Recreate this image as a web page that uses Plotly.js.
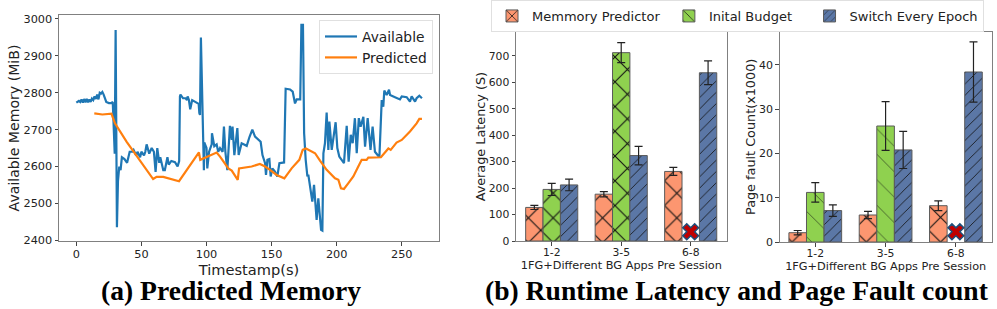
<!DOCTYPE html>
<html><head><meta charset="utf-8">
<script src="https://cdn.plot.ly/plotly-3.0.1.min.js"></script>
<style>html,body{margin:0;padding:0;background:#fff}#c{width:997px;height:309px}</style>
</head><body><div id="c"></div>
<script>
const availableT=[0,2,3,4,5,6,7,8,9,10,11,12,13,14,15,16,17,18,19,20,21,22,23,25,27,28,28.5,29,29.5,30.2,30.6,31.2,32,33,34,35,37,39,40,41,43,44,46,47,49,50,52,53,54,56,57.9,59.6,60.9,62.2,63.7,64.5,66.8,68,70,71,73,75.8,77.8,79,79.6,80,82,84,85,85.5,86.5,87.5,89,92,94,94.5,95,95.7,96.3,97,98,98.3,100,100.6,102,104,104.2,106,107.8,109,110.4,112.4,113.4,114.5,116,118,119.4,120,121.4,123.7,124.7,127,129,130.9,133,135.2,137.3,139.8,141.6,143,145,145.7,146.8,148.3,149.3,150.6,152.6,154.4,156,159.6,160.8,164.2,166.2,168,169.3,172,172.9,174.1,175,176.2,177.5,178.2,180,181.3,182.6,184.6,185.9,187,188,189,189.8,191,192.3,193.6,194.4,196.2,199.2,200.5,202,205.6,207.7,209.2,210.8,212.3,214,215.4,217,218.4,220.5,221.8,223.8,226,227.6,229.4,232.8,234.6,235.8,236.6,238.4,240.2,241,244.8,248.6,250,253.8,256.3,257.6,260.2,261.4,263.5,265.5];
const availableV=[2773,2778,2775,2782,2773,2783,2774,2783,2774,2782,2775,2784,2780,2790,2783,2795,2782,2800,2798,2802,2795,2785,2775,2772,2772,2775,2740,2700,2635,2970,2640,2435,2560,2600,2590,2625,2620,2610,2625,2640,2640,2645,2630,2640,2625,2640,2630,2640,2660,2635,2650,2640,2585,2650,2610,2625,2590,2590,2625,2605,2615,2612,2600,2615,2790,2795,2785,2785,2780,2790,2780,2755,2780,2775,2770,2745,2740,2950,2850,2700,2590,2665,2650,2595,2640,2660,2690,2655,2660,2640,2650,2640,2708,2640,2590,2710,2672,2708,2631,2704,2631,2663,2660,2656,2680,2700,2681,2672,2667,2631,2609,2577,2618,2620,2573,2595,2586,2573,2609,2611,2811,2809,2803,2771,2782,2782,2984,2984,2690,2618,2573,2578,2536,2505,2550,2455,2514,2460,2428,2426,2636,2663,2746,2645,2722,2645,2720,2650,2627,2609,2710,2613,2686,2663,2731,2636,2731,2708,2735,2654,2731,2645,2708,2640,2625,2780,2762,2806,2794,2808,2794,2788,2782,2790,2788,2776,2790,2776,2785,2792,2785];
const predictedT=[13.8,20,27,29.7,38.7,50,59,61.7,66.8,78.9,94.2,95.2,101.4,107.8,110.4,116.8,119.4,122.7,124,125,129.6,134.7,141,145,148.8,153.9,159.8,165.4,171.3,173.9,176.4,183.4,187.2,192.3,198.7,201.3,203.3,205.6,209,212.8,216.6,219.2,223,224.3,234,239.7,241.5,246,250,256.3,261.4,263.5,265.5];
const predictedV=[2744,2741,2743,2717,2667,2609,2566,2572,2572,2560,2638,2618,2627,2638,2627,2595,2589,2573,2564,2595,2598,2600,2607,2600,2591,2577,2568,2595,2618,2645,2649,2636,2616,2591,2568,2564,2541,2539,2555,2573,2600,2618,2618,2624,2625,2649,2645,2665,2672,2695,2717,2729,2729];
const categories=['1-2','3-5','6-8'];
const latencyPredictor=[127,177,263], latencyPredictorErr=[8,10,15];
const latencyBudget=[195,712,null], latencyBudgetErr=[23,38,0];
const latencySwitch=[212,323,636], latencySwitchErr=[22,35,45];
const faultPredictor=[2.1,6.1,8.2], faultPredictorErr=[0.5,0.8,1.1];
const faultBudget=[11.2,26.2,null], faultBudgetErr=[2.2,5.5,0];
const faultSwitch=[7.1,20.8,38.4], faultSwitchErr=[1.3,4.2,6.8];
const failedCategory=['6-8'], failedLatency=[35], failedFault=[2.3];

const ORANGE='#fc9670', GREEN='#8fd14f', BLUE='#5b77a6';
const W=997,H=309;
const dom=(a,b,s)=>[a/s,b/s];
const ydom=(top,bot)=>[1-bot/H,1-top/H];
const PAT={x:{size:17.5,solidity:0.12},'/':{size:8,solidity:0.1},'\\':{size:18,solidity:0.03}};
function bar(name,x,y,err,color,shape,xa,ya){
  return {type:'bar',name,x,y,xaxis:xa,yaxis:ya,showlegend:false,
    marker:{color,line:{color:'#5a5a5a',width:1},pattern:{shape,fgcolor:'#111',fgopacity:1,bgcolor:color,size:PAT[shape].size,solidity:PAT[shape].solidity,fillmode:'overlay'}},
    error_y:{type:'data',array:err,visible:true,color:'#222',thickness:1.2,width:4}};
}
function key(name,color,shape){
  return {type:'bar',name,x:[0],y:[null],xaxis:'x4',yaxis:'y4',legend:'legend2',showlegend:true,
    marker:{color,line:{color:'#5a5a5a',width:1},pattern:{shape,fgcolor:'#111',fgopacity:1,bgcolor:color,size:shape==='x'?10:(shape==='/'?6:9),solidity:shape==='x'?0.18:0.1,fillmode:'overlay'}}};
}
function failed(y,xa,ya){
  return {type:'scatter',mode:'markers',x:failedCategory,y,xaxis:xa,yaxis:ya,showlegend:false,
    marker:{symbol:'x',size:14,color:'#c00000',line:{color:'#1f4e79',width:1.5}}};
}
const traces=[
 {type:'scatter',mode:'lines',name:'Available',x:availableT,y:availableV,line:{color:'#1f77b4',width:2.2},xaxis:'x',yaxis:'y'},
 {type:'scatter',mode:'lines',name:'Predicted',x:predictedT,y:predictedV,line:{color:'#ff7f0e',width:2.2},xaxis:'x',yaxis:'y'},
 bar('Memmory Predictor',categories,latencyPredictor,latencyPredictorErr,ORANGE,'x','x2','y2'),
 bar('Inital Budget',categories,latencyBudget,latencyBudgetErr,GREEN,'x','x2','y2'),
 bar('Switch Every Epoch',categories,latencySwitch,latencySwitchErr,BLUE,'/','x2','y2'),
 failed(failedLatency,'x2','y2'),
 bar('Memmory Predictor',categories,faultPredictor,faultPredictorErr,ORANGE,'x','x3','y3'),
 bar('Inital Budget',categories,faultBudget,faultBudgetErr,GREEN,'\\','x3','y3'),
 bar('Switch Every Epoch',categories,faultSwitch,faultSwitchErr,BLUE,'/','x3','y3'),
 failed(failedFault,'x3','y3'),
 key('Memmory Predictor\u00A0',ORANGE,'x'),
 key('Inital Budget\u00A0\u00A0\u00A0',GREEN,'\\'),
 key('Switch Every Epoch',BLUE,'/')
];
const frame={showline:true,mirror:true,linecolor:'#808080',linewidth:1,showgrid:false,zeroline:false,ticks:'outside',ticklen:3.5,tickwidth:1,tickcolor:'#444'};
const F='DejaVu Sans';
const note=(text,px,py,size,family,color)=>({text,xref:'paper',yref:'paper',x:px/W,y:1-py/H,xanchor:'center',yanchor:'middle',showarrow:false,font:{family,size,color}});
const layout={
 width:W,height:H,margin:{l:0,r:0,t:0,b:0},paper_bgcolor:'#fff',plot_bgcolor:'#fff',
 barmode:'group',bargap:0.25,bargroupgap:0,font:{family:F,color:'#222'},
 showlegend:true,
 xaxis:{...frame,domain:dom(59,439,W),range:[-13.3,278.6],tickvals:[0,50,100,150,200,250],tickfont:{size:11.3},ticklabelstandoff:-1,anchor:'y',
   title:{text:'Timestamp(s)',font:{size:14.6},standoff:0}},
 yaxis:{...frame,domain:ydom(15,241),range:[2398,3010.8],tickvals:[2400,2500,2600,2700,2800,2900,3000],tickfont:{size:11.3},anchor:'x',
   title:{text:'Available Memory (MiB)',font:{size:14.1},standoff:0}},
 xaxis2:{...frame,domain:dom(516,726.7,W),range:[-0.514,2.518],type:'category',categoryarray:categories,tickfont:{size:10.8},ticklabelstandoff:-2,anchor:'y2',
   title:{text:'1FG+Different BG Apps Pre Session',font:{size:11.3},standoff:0}},
 yaxis2:{...frame,domain:ydom(32.3,241),range:[0,789],tickvals:[0,100,200,300,400,500,600,700],tickfont:{size:10.8},anchor:'x2',
   title:{text:'Average Latency (S)',font:{size:12.8},standoff:0}},
 xaxis3:{...frame,domain:dom(779.7,991.7,W),range:[-0.506,2.509],type:'category',categoryarray:categories,tickfont:{size:10.8},ticklabelstandoff:-2,anchor:'y3',
   title:{text:'1FG+Different BG Apps Pre Session',font:{size:11.3},standoff:0}},
 yaxis3:{...frame,domain:ydom(31.7,242),range:[0,47.5],tickvals:[0,10,20,30,40],tickfont:{size:11},anchor:'x3',
   title:{text:'Page fault Count(x1000)',font:{size:12.8},standoff:0}},
 xaxis4:{domain:[0,0.001],visible:false,anchor:'y4'},
 yaxis4:{domain:[0,0.001],visible:false,anchor:'x4'},
 legend:{x:319/W,y:1-20/H,xanchor:'left',yanchor:'top',bgcolor:'rgba(255,255,255,0.8)',bordercolor:'#e0e0e0',borderwidth:1,font:{size:13.8},itemwidth:32,tracegroupgap:0},
 legend2:{orientation:'h',x:491/W,y:1,xanchor:'left',yanchor:'top',bgcolor:'#fff',bordercolor:'#e0e0e0',borderwidth:1,font:{size:13},itemwidth:30,traceorder:'normal'},
 annotations:[
  note('<b>(a) Predicted Memory</b>',231,290,27.6,'Liberation Serif','#000'),
  note('<b>(b) Runtime Latency and Page Fault count</b>',737,290,27.6,'Liberation Serif','#000')
 ]
};
Plotly.newPlot('c',traces,layout,{displayModeBar:false,responsive:false});
</script></body></html>
